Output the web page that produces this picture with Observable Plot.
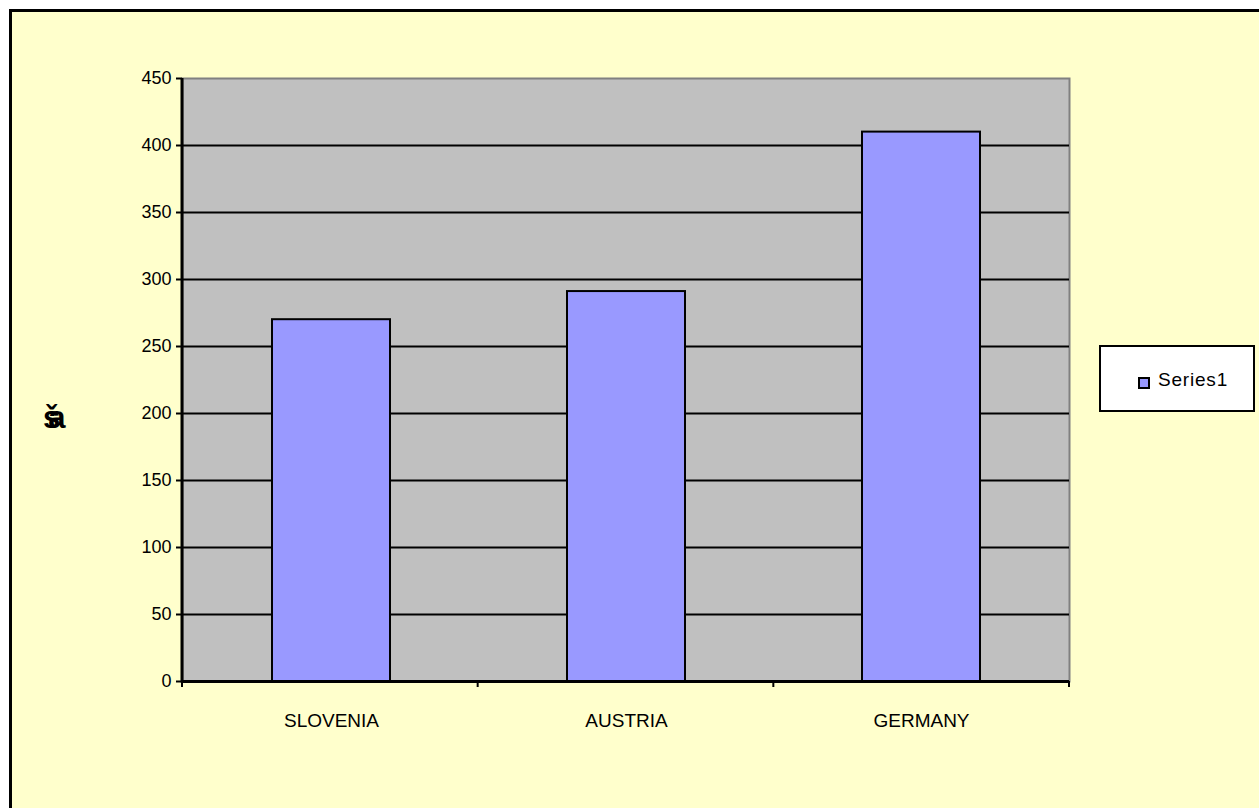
<!DOCTYPE html>
<html>
<head>
<meta charset="utf-8">
<script src="https://cdn.jsdelivr.net/npm/d3@7"></script>
<script src="https://cdn.jsdelivr.net/npm/@observablehq/plot@0.6"></script>
<style>
  html, body { margin: 0; padding: 0; width: 1259px; height: 808px; overflow: hidden; background: #ffffff; }
  #frame { position: absolute; left: 9px; top: 9px; width: 1300px; height: 850px; background: #FFFFCC; border-left: 3px solid #000; border-top: 3px solid #000; box-sizing: border-box; }
  #chart { position: absolute; left: 0; top: 0; }
  #legend { position: absolute; left: 1099px; top: 345px; width: 156px; height: 67px; background: #fff; border: 2px solid #000; box-sizing: border-box; font-family: "Liberation Sans", Arial, sans-serif; font-size: 19px; letter-spacing: 0.8px; }
  #legend .sw { position: absolute; left: 37px; top: 30px; width: 8px; height: 8px; background: #9999FF; border: 2px solid #000; }
  #legend .lb { position: absolute; left: 57px; top: 22px; }
  #ytitle { position: absolute; left: 43px; top: 400px; font-family: "Liberation Sans", Arial, sans-serif; font-weight: bold; font-size: 31px; letter-spacing: -12px; }
</style>
</head>
<body>
<div id="frame"></div>
<div id="chart"></div>
<div id="ytitle">ša</div>
<div id="legend"><div class="sw"></div><div class="lb">Series1</div></div>
<script>
const categories = ["SLOVENIA", "AUSTRIA", "GERMANY"];
const series1 = [270, 291, 410];
const yTicks = [0, 50, 100, 150, 200, 250, 300, 350, 400, 450];
const seriesName = "Series1";

const data = categories.map((c, i) => ({category: c, value: series1[i]}));

const W = 1259, H = 808;
const plot = Plot.plot({
  width: W,
  height: H,
  marginLeft: 182,
  marginRight: 190,
  marginTop: 78,
  marginBottom: 127,
  style: {background: "transparent", fontFamily: "Liberation Sans, Arial, sans-serif", fontSize: "18px", color: "#000"},
  x: {domain: categories, paddingInner: 0.6, paddingOuter: 0.3, label: null},
  y: {domain: [0, 450], label: null},
  marks: [
    Plot.frame({fill: "#C0C0C0", stroke: "#808080", strokeWidth: 2}),
    Plot.gridY(yTicks.filter(t => t > 0 && t < 450), {stroke: "#000", strokeOpacity: 1, strokeWidth: 2}),
    Plot.barY(data, {x: "category", y: "value", fill: "#9999FF", stroke: "#000", strokeWidth: 2}),
    Plot.axisY(yTicks, {tickSize: 6, tickPadding: 5, stroke: "#000", strokeWidth: 2, fontSize: 18, fill: "#000"}),
    Plot.axisX({tickSize: 0, tickPadding: 32, fontSize: 19, fill: "#000"}),
    Plot.ruleY([0], {stroke: "#000", strokeWidth: 3})
  ]
});
document.getElementById("chart").appendChild(plot);

// axis line on the left and category-boundary ticks on the bottom
const xs = plot.scale("x");
const ys = plot.scale("y");
const svg = d3.select(plot);
const left = xs.range[0], right = xs.range[1];
const y0 = ys.apply(0), yTop = ys.apply(450);
svg.append("line").attr("x1", left).attr("x2", left).attr("y1", yTop).attr("y2", y0 + 1.5)
  .attr("stroke", "#000").attr("stroke-width", 3);
const step = (right - left) / categories.length;
for (let i = 0; i <= categories.length; i++) {
  const x = left + i * step;
  svg.append("line").attr("x1", x).attr("x2", x).attr("y1", y0).attr("y2", y0 + 6)
    .attr("stroke", "#000").attr("stroke-width", 2);
}
</script>
</body>
</html>
